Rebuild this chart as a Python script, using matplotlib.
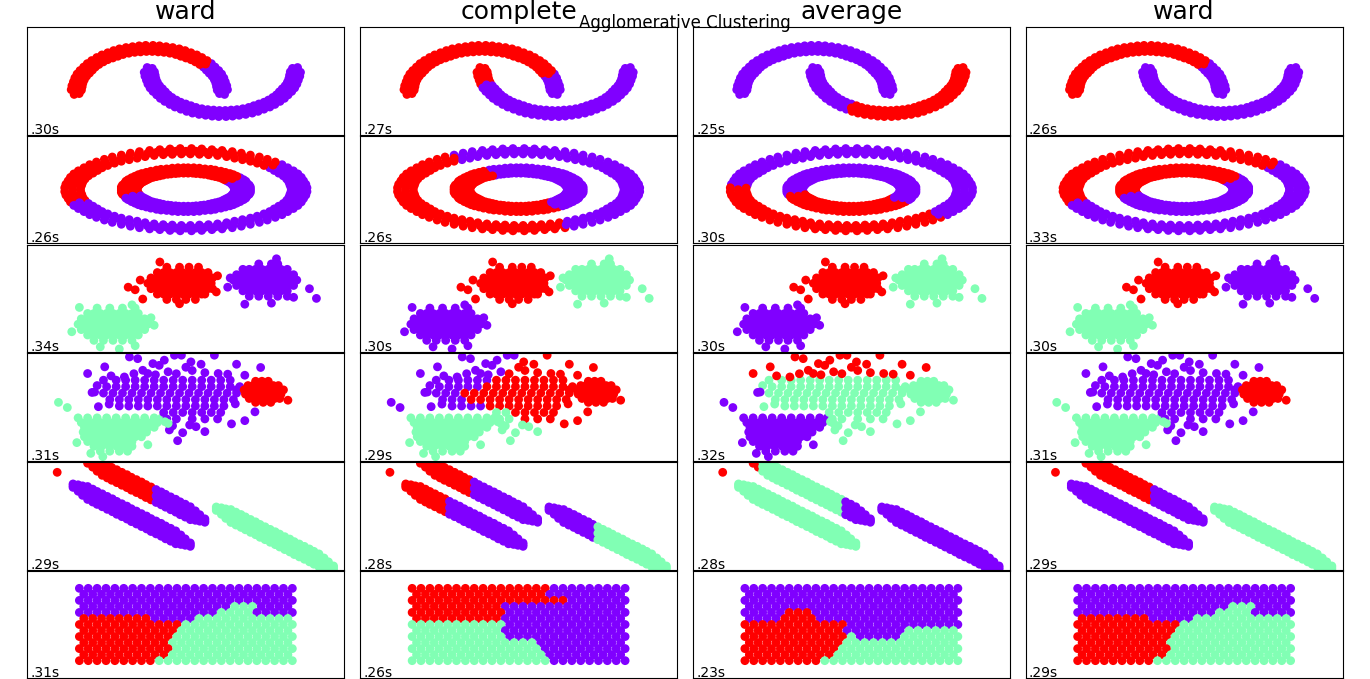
import matplotlib
matplotlib.use("Agg")
import matplotlib.pyplot as plt

# column headers and fit times as printed in the figure
METHODS = ["ward", "complete", "average", "ward"]
FIT_TIMES = [
    [".30s", ".27s", ".25s", ".26s"],
    [".26s", ".26s", ".30s", ".33s"],
    [".34s", ".30s", ".30s", ".30s"],
    [".31s", ".29s", ".32s", ".31s"],
    [".29s", ".28s", ".28s", ".29s"],
    [".31s", ".26s", ".23s", ".29s"],
]
METHOD_INDEX = {"ward": 0, "complete": 1, "average": 2}

# each part: (points, ward labels, complete labels, average labels)
# a label is one colour code for the whole part, or run lengths [(code, count), ...]
# codes: p = cluster 0 (purple), g = middle cluster, r = last cluster

# ---------------- row 1: moons (raw units), three points across the band per step ----------------
MOON_UPPER = [
    (1.03, -0.06), (0.96, -0.04),
    (1.00, 0.00), (0.93, 0.04), (1.07, 0.05), (1.00, 0.09), (1.06, 0.14), (0.92, 0.12),
    (0.98, 0.17), (0.91, 0.20), (1.04, 0.23), (0.97, 0.26), (1.02, 0.32), (0.89, 0.28),
    (0.94, 0.34), (0.86, 0.36), (0.99, 0.41), (0.91, 0.42), (0.95, 0.49), (0.82, 0.43),
    (0.87, 0.50), (0.78, 0.50), (0.90, 0.57), (0.82, 0.57), (0.85, 0.65), (0.74, 0.57),
    (0.77, 0.64), (0.69, 0.63), (0.79, 0.72), (0.71, 0.71), (0.72, 0.79), (0.63, 0.69),
    (0.64, 0.77), (0.57, 0.74), (0.65, 0.85), (0.57, 0.82), (0.57, 0.90), (0.50, 0.78),
    (0.50, 0.87), (0.43, 0.82), (0.49, 0.95), (0.42, 0.91), (0.41, 0.99), (0.36, 0.86),
    (0.34, 0.94), (0.28, 0.89), (0.32, 1.02), (0.26, 0.97), (0.23, 1.04), (0.20, 0.91),
    (0.17, 0.98), (0.12, 0.92), (0.14, 1.06), (0.09, 1.00), (0.05, 1.07), (0.04, 0.93),
    (0.00, 1.00), (-0.04, 0.93), (-0.05, 1.07), (-0.09, 1.00), (-0.14, 1.06), (-0.12, 0.92),
    (-0.17, 0.98), (-0.20, 0.91), (-0.23, 1.04), (-0.26, 0.97), (-0.32, 1.02), (-0.28, 0.89),
    (-0.34, 0.94), (-0.36, 0.86), (-0.41, 0.99), (-0.42, 0.91), (-0.49, 0.95), (-0.43, 0.82),
    (-0.50, 0.87), (-0.50, 0.78), (-0.57, 0.90), (-0.57, 0.82), (-0.65, 0.85), (-0.57, 0.74),
    (-0.64, 0.77), (-0.63, 0.69), (-0.72, 0.79), (-0.71, 0.71), (-0.79, 0.72), (-0.69, 0.63),
    (-0.77, 0.64), (-0.74, 0.57), (-0.85, 0.65), (-0.82, 0.57), (-0.90, 0.57), (-0.78, 0.50),
    (-0.87, 0.50), (-0.82, 0.43), (-0.95, 0.49), (-0.91, 0.42), (-0.99, 0.41), (-0.86, 0.36),
    (-0.94, 0.34), (-0.89, 0.28), (-1.02, 0.32), (-0.97, 0.26), (-1.04, 0.23), (-0.91, 0.20),
    (-0.98, 0.17), (-0.92, 0.12), (-1.06, 0.14), (-1.00, 0.09), (-1.07, 0.05), (-0.93, 0.04),
    (-1.00, 0.00),
    (-0.96, -0.04), (-1.03, -0.06),
]
MOON_LOWER = [
    (-0.03, 0.56), (0.04, 0.54),
    (0.00, 0.50), (0.07, 0.46), (-0.07, 0.45), (0.00, 0.41), (-0.06, 0.36), (0.08, 0.38),
    (0.02, 0.33), (0.09, 0.30), (-0.04, 0.27), (0.03, 0.24), (-0.02, 0.18), (0.11, 0.22),
    (0.06, 0.16), (0.14, 0.14), (0.01, 0.09), (0.09, 0.08), (0.05, 0.01), (0.18, 0.07),
    (0.13, 0.00), (0.22, 0.00), (0.10, -0.07), (0.18, -0.07), (0.15, -0.15), (0.26, -0.07),
    (0.23, -0.14), (0.31, -0.13), (0.21, -0.22), (0.29, -0.21), (0.28, -0.29), (0.37, -0.19),
    (0.36, -0.27), (0.43, -0.24), (0.35, -0.35), (0.43, -0.32), (0.43, -0.40), (0.50, -0.28),
    (0.50, -0.37), (0.57, -0.32), (0.51, -0.45), (0.58, -0.41), (0.59, -0.49), (0.64, -0.36),
    (0.66, -0.44), (0.72, -0.39), (0.68, -0.52), (0.74, -0.47), (0.77, -0.54), (0.80, -0.41),
    (0.83, -0.48), (0.88, -0.42), (0.86, -0.56), (0.91, -0.50), (0.95, -0.57), (0.96, -0.43),
    (1.00, -0.50), (1.04, -0.43), (1.05, -0.57), (1.09, -0.50), (1.14, -0.56), (1.12, -0.42),
    (1.17, -0.48), (1.20, -0.41), (1.23, -0.54), (1.26, -0.47), (1.32, -0.52), (1.28, -0.39),
    (1.34, -0.44), (1.36, -0.36), (1.41, -0.49), (1.42, -0.41), (1.49, -0.45), (1.43, -0.32),
    (1.50, -0.37), (1.50, -0.28), (1.57, -0.40), (1.57, -0.32), (1.65, -0.35), (1.57, -0.24),
    (1.64, -0.27), (1.63, -0.19), (1.72, -0.29), (1.71, -0.21), (1.79, -0.22), (1.69, -0.13),
    (1.77, -0.14), (1.74, -0.07), (1.85, -0.15), (1.82, -0.07), (1.90, -0.07), (1.78, 0.00),
    (1.87, 0.00), (1.82, 0.07), (1.95, 0.01), (1.91, 0.08), (1.99, 0.09), (1.86, 0.14),
    (1.94, 0.16), (1.89, 0.22), (2.02, 0.18), (1.97, 0.24), (2.04, 0.27), (1.91, 0.30),
    (1.98, 0.33), (1.92, 0.38), (2.06, 0.36), (2.00, 0.41), (2.07, 0.45), (1.93, 0.46),
    (2.00, 0.50),
    (1.96, 0.54), (2.03, 0.56),
]
MOONS = [
    (MOON_UPPER, [("p", 26), ("r", 87)], [("p", 17), ("r", 96)], "p"),
    (MOON_LOWER, "p", [("r", 14), ("p", 99)], [("p", 38), ("r", 75)]),
]

# ---------------- row 2: circles (raw units), ordered by angle ----------------
CIRCLE_OUTER = [
    (1.00, 0.00), (0.93, 0.04), (1.07, 0.05), (1.00, 0.09), (1.06, 0.14), (0.92, 0.12),
    (0.98, 0.17), (0.91, 0.20), (1.04, 0.23), (0.97, 0.26), (1.02, 0.32), (0.89, 0.28),
    (0.94, 0.34), (0.86, 0.36), (0.99, 0.41), (0.91, 0.42), (0.95, 0.49), (0.82, 0.43),
    (0.87, 0.50), (0.78, 0.50), (0.90, 0.57), (0.82, 0.57), (0.85, 0.65), (0.74, 0.57),
    (0.77, 0.64), (0.69, 0.63), (0.79, 0.72), (0.71, 0.71), (0.72, 0.79), (0.63, 0.69),
    (0.64, 0.77), (0.57, 0.74), (0.65, 0.85), (0.57, 0.82), (0.57, 0.90), (0.50, 0.78),
    (0.50, 0.87), (0.43, 0.82), (0.49, 0.95), (0.42, 0.91), (0.41, 0.99), (0.36, 0.86),
    (0.34, 0.94), (0.28, 0.89), (0.32, 1.02), (0.26, 0.97), (0.23, 1.04), (0.20, 0.91),
    (0.17, 0.98), (0.12, 0.92), (0.14, 1.06), (0.09, 1.00), (0.05, 1.07), (0.04, 0.93),
    (0.00, 1.00), (-0.04, 0.93), (-0.05, 1.07), (-0.09, 1.00), (-0.14, 1.06), (-0.12, 0.92),
    (-0.17, 0.98), (-0.20, 0.91), (-0.23, 1.04), (-0.26, 0.97), (-0.32, 1.02), (-0.28, 0.89),
    (-0.34, 0.94), (-0.36, 0.86), (-0.41, 0.99), (-0.42, 0.91), (-0.49, 0.95), (-0.43, 0.82),
    (-0.50, 0.87), (-0.50, 0.78), (-0.57, 0.90), (-0.57, 0.82), (-0.65, 0.85), (-0.57, 0.74),
    (-0.64, 0.77), (-0.63, 0.69), (-0.72, 0.79), (-0.71, 0.71), (-0.79, 0.72), (-0.69, 0.63),
    (-0.77, 0.64), (-0.74, 0.57), (-0.85, 0.65), (-0.82, 0.57), (-0.90, 0.57), (-0.78, 0.50),
    (-0.87, 0.50), (-0.82, 0.43), (-0.95, 0.49), (-0.91, 0.42), (-0.99, 0.41), (-0.86, 0.36),
    (-0.94, 0.34), (-0.89, 0.28), (-1.02, 0.32), (-0.97, 0.26), (-1.04, 0.23), (-0.91, 0.20),
    (-0.98, 0.17), (-0.92, 0.12), (-1.06, 0.14), (-1.00, 0.09), (-1.07, 0.05), (-0.93, 0.04),
    (-1.00, 0.00), (-0.93, -0.04), (-1.07, -0.05), (-1.00, -0.09), (-1.06, -0.14), (-0.92, -0.12),
    (-0.98, -0.17), (-0.91, -0.20), (-1.04, -0.23), (-0.97, -0.26), (-1.02, -0.32), (-0.89, -0.28),
    (-0.94, -0.34), (-0.86, -0.36), (-0.99, -0.41), (-0.91, -0.42), (-0.95, -0.49), (-0.82, -0.43),
    (-0.87, -0.50), (-0.78, -0.50), (-0.90, -0.57), (-0.82, -0.57), (-0.85, -0.65), (-0.74, -0.57),
    (-0.77, -0.64), (-0.69, -0.63), (-0.79, -0.72), (-0.71, -0.71), (-0.72, -0.79), (-0.63, -0.69),
    (-0.64, -0.77), (-0.57, -0.74), (-0.65, -0.85), (-0.57, -0.82), (-0.57, -0.90), (-0.50, -0.78),
    (-0.50, -0.87), (-0.43, -0.82), (-0.49, -0.95), (-0.42, -0.91), (-0.41, -0.99), (-0.36, -0.86),
    (-0.34, -0.94), (-0.28, -0.89), (-0.32, -1.02), (-0.26, -0.97), (-0.23, -1.04), (-0.20, -0.91),
    (-0.17, -0.98), (-0.12, -0.92), (-0.14, -1.06), (-0.09, -1.00), (-0.05, -1.07), (-0.04, -0.93),
    (0.00, -1.00), (0.04, -0.93), (0.05, -1.07), (0.09, -1.00), (0.14, -1.06), (0.12, -0.92),
    (0.17, -0.98), (0.20, -0.91), (0.23, -1.04), (0.26, -0.97), (0.32, -1.02), (0.28, -0.89),
    (0.34, -0.94), (0.36, -0.86), (0.41, -0.99), (0.42, -0.91), (0.49, -0.95), (0.43, -0.82),
    (0.50, -0.87), (0.50, -0.78), (0.57, -0.90), (0.57, -0.82), (0.65, -0.85), (0.57, -0.74),
    (0.64, -0.77), (0.63, -0.69), (0.72, -0.79), (0.71, -0.71), (0.79, -0.72), (0.69, -0.63),
    (0.77, -0.64), (0.74, -0.57), (0.85, -0.65), (0.82, -0.57), (0.90, -0.57), (0.78, -0.50),
    (0.87, -0.50), (0.82, -0.43), (0.95, -0.49), (0.91, -0.42), (0.99, -0.41), (0.86, -0.36),
    (0.94, -0.34), (0.89, -0.28), (1.02, -0.32), (0.97, -0.26), (1.04, -0.23), (0.91, -0.20),
    (0.98, -0.17), (0.92, -0.12), (1.06, -0.14), (1.00, -0.09), (1.07, -0.05), (0.93, -0.04),
]
CIRCLE_INNER = [
    (0.50, 0.00), (0.43, 0.02), (0.57, 0.02), (0.50, 0.04), (0.57, 0.07), (0.43, 0.06),
    (0.49, 0.09), (0.42, 0.09), (0.56, 0.12), (0.48, 0.13), (0.54, 0.17), (0.41, 0.13),
    (0.47, 0.17), (0.40, 0.16), (0.53, 0.22), (0.45, 0.21), (0.51, 0.26), (0.38, 0.20),
    (0.43, 0.25), (0.36, 0.23), (0.48, 0.31), (0.41, 0.29), (0.45, 0.35), (0.34, 0.26),
    (0.38, 0.32), (0.32, 0.29), (0.42, 0.39), (0.35, 0.35), (0.39, 0.42), (0.29, 0.32),
    (0.32, 0.38), (0.26, 0.34), (0.35, 0.45), (0.29, 0.41), (0.31, 0.48), (0.23, 0.36),
    (0.25, 0.43), (0.20, 0.38), (0.26, 0.51), (0.21, 0.45), (0.22, 0.53), (0.16, 0.40),
    (0.17, 0.47), (0.13, 0.41), (0.17, 0.54), (0.13, 0.48), (0.12, 0.56), (0.09, 0.42),
    (0.09, 0.49), (0.06, 0.43), (0.07, 0.57), (0.04, 0.50), (0.02, 0.57), (0.02, 0.43),
    (0.00, 0.50), (-0.02, 0.43), (-0.02, 0.57), (-0.04, 0.50), (-0.07, 0.57), (-0.06, 0.43),
    (-0.09, 0.49), (-0.09, 0.42), (-0.12, 0.56), (-0.13, 0.48), (-0.17, 0.54), (-0.13, 0.41),
    (-0.17, 0.47), (-0.16, 0.40), (-0.22, 0.53), (-0.21, 0.45), (-0.26, 0.51), (-0.20, 0.38),
    (-0.25, 0.43), (-0.23, 0.36), (-0.31, 0.48), (-0.29, 0.41), (-0.35, 0.45), (-0.26, 0.34),
    (-0.32, 0.38), (-0.29, 0.32), (-0.39, 0.42), (-0.35, 0.35), (-0.42, 0.39), (-0.32, 0.29),
    (-0.38, 0.32), (-0.34, 0.26), (-0.45, 0.35), (-0.41, 0.29), (-0.48, 0.31), (-0.36, 0.23),
    (-0.43, 0.25), (-0.38, 0.20), (-0.51, 0.26), (-0.45, 0.21), (-0.53, 0.22), (-0.40, 0.16),
    (-0.47, 0.17), (-0.41, 0.13), (-0.54, 0.17), (-0.48, 0.13), (-0.56, 0.12), (-0.42, 0.09),
    (-0.49, 0.09), (-0.43, 0.06), (-0.57, 0.07), (-0.50, 0.04), (-0.57, 0.02), (-0.43, 0.02),
    (-0.50, 0.00), (-0.43, -0.02), (-0.57, -0.02), (-0.50, -0.04), (-0.57, -0.07), (-0.43, -0.06),
    (-0.49, -0.09), (-0.42, -0.09), (-0.56, -0.12), (-0.48, -0.13), (-0.54, -0.17), (-0.41, -0.13),
    (-0.47, -0.17), (-0.40, -0.16), (-0.53, -0.22), (-0.45, -0.21), (-0.51, -0.26), (-0.38, -0.20),
    (-0.43, -0.25), (-0.36, -0.23), (-0.48, -0.31), (-0.41, -0.29), (-0.45, -0.35), (-0.34, -0.26),
    (-0.38, -0.32), (-0.32, -0.29), (-0.42, -0.39), (-0.35, -0.35), (-0.39, -0.42), (-0.29, -0.32),
    (-0.32, -0.38), (-0.26, -0.34), (-0.35, -0.45), (-0.29, -0.41), (-0.31, -0.48), (-0.23, -0.36),
    (-0.25, -0.43), (-0.20, -0.38), (-0.26, -0.51), (-0.21, -0.45), (-0.22, -0.53), (-0.16, -0.40),
    (-0.17, -0.47), (-0.13, -0.41), (-0.17, -0.54), (-0.13, -0.48), (-0.12, -0.56), (-0.09, -0.42),
    (-0.09, -0.49), (-0.06, -0.43), (-0.07, -0.57), (-0.04, -0.50), (-0.02, -0.57), (-0.02, -0.43),
    (0.00, -0.50), (0.02, -0.43), (0.02, -0.57), (0.04, -0.50), (0.07, -0.57), (0.06, -0.43),
    (0.09, -0.49), (0.09, -0.42), (0.12, -0.56), (0.13, -0.48), (0.17, -0.54), (0.13, -0.41),
    (0.17, -0.47), (0.16, -0.40), (0.22, -0.53), (0.21, -0.45), (0.26, -0.51), (0.20, -0.38),
    (0.25, -0.43), (0.23, -0.36), (0.31, -0.48), (0.29, -0.41), (0.35, -0.45), (0.26, -0.34),
    (0.32, -0.38), (0.29, -0.32), (0.39, -0.42), (0.35, -0.35), (0.42, -0.39), (0.32, -0.29),
    (0.38, -0.32), (0.34, -0.26), (0.45, -0.35), (0.41, -0.29), (0.48, -0.31), (0.36, -0.23),
    (0.43, -0.25), (0.38, -0.20), (0.51, -0.26), (0.45, -0.21), (0.53, -0.22), (0.40, -0.16),
    (0.47, -0.17), (0.41, -0.13), (0.54, -0.17), (0.48, -0.13), (0.56, -0.12), (0.42, -0.09),
    (0.49, -0.09), (0.43, -0.06), (0.57, -0.07), (0.50, -0.04), (0.57, -0.02), (0.43, -0.02),
]
CIRCLES = [
    (CIRCLE_OUTER, [("p", 24), ("r", 96), ("p", 96)], [("p", 75), ("r", 102), ("p", 39)],
     [("p", 106), ("r", 86), ("p", 24)]),
    (CIRCLE_INNER, [("p", 21), ("r", 99), ("p", 96)], [("p", 73), ("r", 113), ("p", 30)],
     [("p", 118), ("r", 81), ("p", 17)]),
]

# ---------------- row 3: blobs (scaled units), rows of (y, [x ...]) ----------------
BLOB_MID_ROWS = [
    (1.45, [-0.30, -0.10, 0.05, 0.20]),
    (1.20, [-0.45, -0.35, -0.25, -0.15, -0.05, 0.05, 0.15, 0.25, 0.35]),
    (0.95, [-0.55, -0.45, -0.35, -0.25, -0.15, -0.05, 0.05, 0.15, 0.25, 0.35, 0.42]),
    (0.70, [-0.60, -0.50, -0.40, -0.30, -0.20, -0.10, 0.00, 0.10, 0.20, 0.30, 0.40]),
    (0.45, [-0.55, -0.45, -0.35, -0.25, -0.15, -0.05, 0.05, 0.15, 0.25, 0.35, 0.42]),
    (0.20, [-0.45, -0.35, -0.25, -0.15, -0.05, 0.05, 0.15, 0.25, 0.30]),
    (-0.05, [-0.30, -0.15, 0.00, 0.15]),
]
BLOB_MID_EXTRA = [(-0.91, 0.52), (-0.80, 0.40), (-0.68, -0.03), (-0.72, 0.85),
                  (-0.41, 1.69), (0.50, 1.05), (0.48, 0.30), (-0.10, -0.25)]
BLOB_RIGHT_ROWS = [
    (1.60, [1.15, 1.35, 1.45]),
    (1.35, [0.90, 1.00, 1.10, 1.20, 1.30, 1.40, 1.50, 1.60]),
    (1.10, [0.80, 0.90, 1.00, 1.10, 1.20, 1.30, 1.40, 1.50, 1.60, 1.70]),
    (0.85, [0.75, 0.85, 0.95, 1.05, 1.15, 1.25, 1.35, 1.45, 1.55, 1.65, 1.75]),
    (0.60, [0.80, 0.90, 1.00, 1.10, 1.20, 1.30, 1.40, 1.50, 1.60, 1.70]),
    (0.35, [0.90, 1.00, 1.10, 1.20, 1.30, 1.40, 1.50, 1.60]),
    (0.10, [1.00, 1.15, 1.30, 1.45, 1.60]),
]
BLOB_RIGHT_EXTRA = [(0.66, 0.52), (2.06, 0.00), (0.93, -0.27), (1.35, -0.22),
                    (1.70, 0.05), (1.43, 1.84), (1.95, 0.45), (0.70, 0.95)]
BLOB_LEFT_ROWS = [
    (-0.45, [-1.40, -1.20, -1.00, -0.80]),
    (-0.70, [-1.55, -1.45, -1.35, -1.25, -1.15, -1.05, -0.95, -0.85, -0.75]),
    (-0.95, [-1.65, -1.55, -1.45, -1.35, -1.25, -1.15, -1.05, -0.95, -0.85, -0.75, -0.65]),
    (-1.20, [-1.70, -1.60, -1.50, -1.40, -1.30, -1.20, -1.10, -1.00, -0.90, -0.80, -0.70, -0.60]),
    (-1.45, [-1.65, -1.55, -1.45, -1.35, -1.25, -1.15, -1.05, -0.95, -0.85, -0.75, -0.65]),
    (-1.70, [-1.55, -1.45, -1.35, -1.25, -1.15, -1.05, -0.95, -0.85, -0.75]),
    (-1.95, [-1.45, -1.30, -1.15, -1.00, -0.85]),
]
BLOB_LEFT_EXTRA = [(-1.68, -0.42), (-0.85, -0.30), (-0.55, -0.90), (-0.50, -1.25),
                   (-1.35, -2.25), (-1.05, -2.35), (-0.80, -2.20), (-1.80, -1.55)]

# ---------------- row 4: blobs of varied spread ----------------
VARIED_SMALL_ROWS = [
    (1.20, [1.10, 1.20, 1.30]),
    (1.00, [0.98, 1.06, 1.14, 1.22, 1.30, 1.38, 1.46]),
    (0.80, [0.92, 1.00, 1.08, 1.16, 1.24, 1.32, 1.40, 1.48, 1.54]),
    (0.60, [0.94, 1.02, 1.10, 1.18, 1.26, 1.34, 1.42, 1.50]),
    (0.40, [1.00, 1.08, 1.16, 1.24, 1.32, 1.40, 1.48]),
    (0.22, [1.10, 1.22, 1.34]),
]
VARIED_SMALL_EXTRA = [(1.61, 0.32)]
VARIED_TIGHT_ROWS = [
    (-0.50, [-1.70, -1.55, -1.40, -1.25, -1.10, -0.95, -0.80, -0.65, -0.50, -0.38]),
    (-0.72, [-1.65, -1.55, -1.45, -1.35, -1.25, -1.15, -1.05, -0.95, -0.85, -0.75, -0.65, -0.55, -0.45]),
    (-0.94, [-1.60, -1.50, -1.40, -1.30, -1.20, -1.10, -1.00, -0.90, -0.80, -0.70, -0.60, -0.50]),
    (-1.16, [-1.62, -1.52, -1.42, -1.32, -1.22, -1.12, -1.02, -0.92, -0.82, -0.72, -0.62]),
    (-1.38, [-1.60, -1.50, -1.40, -1.30, -1.20, -1.10, -1.00, -0.90, -0.80, -0.70]),
    (-1.60, [-1.55, -1.45, -1.35, -1.25, -1.15, -1.05, -0.95, -0.85]),
    (-1.82, [-1.45, -1.33, -1.21, -1.09, -0.97, -0.85]),
    (-2.05, [-1.35, -1.20, -1.05, -0.92]),
]
VARIED_TIGHT_EXTRA = [(-1.31, -2.30), (-1.72, -1.65), (-1.50, -2.15), (-0.60, -1.75)]
# wide blob, split where the three methods cut it
WIDE_LEFT_ROWS = [
    (1.25, [-1.10, -0.95, -0.80, -0.65, -0.50]),
    (0.95, [-1.25, -1.10, -0.95, -0.80, -0.65]),
    (0.65, [-1.30, -1.15, -1.00]),
    (0.35, [-1.20, -1.05, -0.90]),
    (0.05, [-1.05, -0.90, -0.75, -0.60]),
]
WIDE_LEFT_EXTRA = [(-1.38, 0.02), (-1.21, 0.14), (-1.40, 1.00), (-1.30, 1.25)]
WIDE_RIGHT_ROWS = [
    (1.25, [-0.35, -0.20, -0.05, 0.10, 0.25, 0.40, 0.55, 0.70]),
    (0.95, [-0.50, -0.35, -0.20, -0.05, 0.10, 0.25, 0.40, 0.55, 0.70, 0.85]),
    (0.65, [-0.85, -0.70, -0.55, -0.40, -0.25, -0.10, 0.05, 0.20, 0.35, 0.50, 0.65, 0.80]),
    (0.35, [-0.75, -0.60, -0.45, -0.30, -0.15, 0.00, 0.15, 0.30, 0.45, 0.60, 0.75]),
    (0.05, [-0.45, -0.30, -0.15, 0.00, 0.15, 0.30, 0.45, 0.60]),
    (-0.25, [-0.05, 0.10, 0.25, 0.40, 0.55]),
    (-0.55, [0.10, 0.30, 0.50]),
]
WIDE_RIGHT_EXTRA = [(1.09, -0.22), (0.93, -0.63), (0.72, -0.78), (0.78, 0.15), (0.80, 0.80)]
WIDE_BOTTOM_ROWS = [(-0.25, [-0.35, -0.20]), (-0.55, [-0.30, -0.15])]
WIDE_BOTTOM_EXTRA = [(-0.26, -1.06), (-0.05, -1.19), (0.16, -0.91), (0.30, -1.14),
                     (-0.13, -1.56), (0.06, -0.83), (-0.21, -0.87)]
WIDE_TOP_LEFT = [(-1.55, 1.56), (-1.28, 1.87), (-1.18, 1.45), (-0.97, 1.40), (-0.89, 2.33),
                 (-0.76, 2.25), (-0.68, 1.71), (-0.60, 1.56), (-0.52, 2.02), (-0.42, 1.94),
                 (-0.34, 2.18), (-0.28, 1.64), (-0.18, 2.41), (-0.07, 2.41), (-0.82, 1.55),
                 (-0.48, 1.50)]
WIDE_TOP_RIGHT = [(0.08, 2.10), (0.24, 1.99), (0.45, 2.41), (0.51, 1.56), (0.66, 1.53),
                  (0.80, 1.99), (0.93, 1.48), (1.18, 1.84), (0.10, 1.70), (0.30, 1.60),
                  (-0.15, 1.55), (0.00, 1.85)]
VARIED_FAR_LEFT = [(-2.01, 0.22), (-1.87, -0.02)]
VARIED_LEFT_PAIR = [(-1.48, 0.68), (-1.44, 0.70)]
VARIED_BRIDGE = [(-0.28, -0.76), (-0.33, -0.68)]

# ---------------- row 5: anisotropic blobs, three points across each streak ----------------
ANISO_BAND_A = [
    (-1.78, 1.40), (-1.78, 1.48), (-1.78, 1.32), (-1.70, 1.29), (-1.70, 1.44), (-1.70, 1.14),
    (-1.63, 1.17), (-1.63, 1.39), (-1.63, 0.95), (-1.55, 1.06), (-1.55, 1.36), (-1.55, 0.76),
    (-1.47, 0.94), (-1.47, 1.24), (-1.47, 0.64), (-1.40, 0.83), (-1.40, 1.13), (-1.40, 0.53),
    (-1.32, 0.72), (-1.32, 1.02), (-1.32, 0.42), (-1.24, 0.60), (-1.24, 0.90), (-1.24, 0.30),
    (-1.16, 0.49), (-1.16, 0.79), (-1.16, 0.19), (-1.09, 0.37), (-1.09, 0.67), (-1.09, 0.07),
    (-1.01, 0.26), (-1.01, 0.56), (-1.01, -0.04), (-0.93, 0.15), (-0.93, 0.45), (-0.93, -0.15),
    (-0.86, 0.03), (-0.86, 0.33), (-0.86, -0.27), (-0.78, -0.08), (-0.78, 0.22), (-0.78, -0.38),
    (-0.70, -0.20), (-0.70, 0.10), (-0.70, -0.50), (-0.62, -0.31), (-0.62, -0.01), (-0.62, -0.61),
    (-0.55, -0.43), (-0.55, -0.13), (-0.55, -0.73), (-0.47, -0.54), (-0.47, -0.24), (-0.47, -0.84),
    (-0.39, -0.65), (-0.39, -0.35), (-0.39, -0.95), (-0.32, -0.77), (-0.32, -0.47), (-0.32, -1.07),
    (-0.24, -0.88), (-0.24, -0.58), (-0.24, -1.18), (-0.16, -1.00), (-0.16, -0.70), (-0.16, -1.30),
    (-0.08, -1.11), (-0.08, -0.89), (-0.08, -1.33), (-0.01, -1.22), (-0.01, -1.07), (-0.01, -1.37),
    (0.07, -1.34), (0.07, -1.26), (0.07, -1.42),
]
ANISO_BAND_B = [
    (-1.55, 2.52), (-1.55, 2.60), (-1.55, 2.44), (-1.47, 2.41), (-1.47, 2.56), (-1.47, 2.26),
    (-1.40, 2.29), (-1.40, 2.51), (-1.40, 2.07), (-1.32, 2.18), (-1.32, 2.48), (-1.32, 1.88),
    (-1.24, 2.06), (-1.24, 2.36), (-1.24, 1.76), (-1.17, 1.95), (-1.17, 2.25), (-1.17, 1.65),
    (-1.09, 1.84), (-1.09, 2.14), (-1.09, 1.54), (-1.01, 1.72), (-1.01, 2.02), (-1.01, 1.42),
    (-0.93, 1.61), (-0.93, 1.91), (-0.93, 1.31), (-0.86, 1.49), (-0.86, 1.79), (-0.86, 1.19),
    (-0.78, 1.38), (-0.78, 1.68), (-0.78, 1.08), (-0.70, 1.27), (-0.70, 1.57), (-0.70, 0.97),
    (-0.63, 1.15), (-0.63, 1.45), (-0.63, 0.85), (-0.55, 1.04), (-0.55, 1.34), (-0.55, 0.74),
    (-0.47, 0.92), (-0.47, 1.22), (-0.47, 0.62), (-0.39, 0.81), (-0.39, 1.11), (-0.39, 0.51),
    (-0.32, 0.70), (-0.32, 1.00), (-0.32, 0.40), (-0.24, 0.58), (-0.24, 0.88), (-0.24, 0.28),
    (-0.16, 0.47), (-0.16, 0.77), (-0.16, 0.17), (-0.09, 0.35), (-0.09, 0.65), (-0.09, 0.05),
    (-0.01, 0.24), (-0.01, 0.54), (-0.01, -0.06), (0.07, 0.12), (0.07, 0.42), (0.07, -0.18),
    (0.15, 0.01), (0.15, 0.23), (0.15, -0.21), (0.22, -0.10), (0.22, 0.05), (0.22, -0.25),
    (0.30, -0.22), (0.30, -0.14), (0.30, -0.30),
]
ANISO_BAND_C = [
    (0.48, 0.33), (0.48, 0.41), (0.48, 0.25), (0.56, 0.22), (0.56, 0.37), (0.56, 0.07),
    (0.63, 0.10), (0.63, 0.32), (0.63, -0.12), (0.71, -0.01), (0.71, 0.29), (0.71, -0.31),
    (0.79, -0.13), (0.79, 0.17), (0.79, -0.43), (0.87, -0.24), (0.87, 0.06), (0.87, -0.54),
    (0.94, -0.35), (0.94, -0.05), (0.94, -0.65), (1.02, -0.47), (1.02, -0.17), (1.02, -0.77),
    (1.10, -0.58), (1.10, -0.28), (1.10, -0.88), (1.17, -0.70), (1.17, -0.40), (1.17, -1.00),
    (1.25, -0.81), (1.25, -0.51), (1.25, -1.11), (1.33, -0.93), (1.33, -0.63), (1.33, -1.23),
    (1.41, -1.04), (1.41, -0.74), (1.41, -1.34), (1.48, -1.15), (1.48, -0.85), (1.48, -1.45),
    (1.56, -1.27), (1.56, -0.97), (1.56, -1.57), (1.64, -1.38), (1.64, -1.08), (1.64, -1.68),
    (1.71, -1.50), (1.71, -1.20), (1.71, -1.80), (1.79, -1.61), (1.79, -1.31), (1.79, -1.91),
    (1.87, -1.72), (1.87, -1.42), (1.87, -2.02), (1.95, -1.84), (1.95, -1.54), (1.95, -2.14),
    (2.02, -1.95), (2.02, -1.65), (2.02, -2.25), (2.10, -2.07), (2.10, -1.77), (2.10, -2.37),
    (2.18, -2.18), (2.18, -1.96), (2.18, -2.40), (2.25, -2.29), (2.25, -2.14), (2.25, -2.44),
    (2.33, -2.41), (2.33, -2.33), (2.33, -2.49),
]
ANISO_STRAY = [(-2.03, 2.02)]

# ---------------- row 6: no structure (uniform square) ----------------
UNIF_Y = [1.68, 1.40, 1.12, 0.84, 0.56, 0.28, 0.00, -0.28, -0.56, -0.84, -1.12, -1.40, -1.68]
UNIF_X_EVEN = [-1.68, -1.54, -1.40, -1.26, -1.12, -0.98, -0.84, -0.70, -0.56, -0.42, -0.28, -0.14,
               0.00, 0.14, 0.28, 0.42, 0.56, 0.70, 0.84, 0.98, 1.12, 1.26, 1.40, 1.54, 1.68]
UNIF_X_ODD = [-1.61, -1.47, -1.33, -1.19, -1.05, -0.91, -0.77, -0.63, -0.49, -0.35, -0.21, -0.07,
              0.07, 0.21, 0.35, 0.49, 0.63, 0.77, 0.91, 1.05, 1.19, 1.33, 1.47, 1.61]
UNIF_WARD = [
    [("p", 25)], [("p", 24)], [("p", 25)],
    [("p", 17), ("g", 3), ("p", 4)],
    [("p", 16), ("g", 4), ("p", 5)],
    [("r", 8), ("p", 5), ("g", 11)],
    [("r", 12), ("g", 13)],
    [("r", 11), ("g", 13)],
    [("r", 11), ("g", 14)],
    [("r", 10), ("g", 14)],
    [("r", 11), ("g", 14)],
    [("r", 10), ("g", 14)],
    [("r", 9), ("g", 16)],
]
UNIF_COMPLETE = [
    [("r", 16), ("p", 9)],
    [("r", 15), ("p", 9)],
    [("r", 18), ("p", 7)],
    [("r", 10), ("p", 14)],
    [("r", 11), ("p", 14)],
    [("r", 10), ("p", 14)],
    [("g", 11), ("p", 14)],
    [("g", 10), ("p", 14)],
    [("g", 11), ("p", 14)],
    [("g", 14), ("p", 10)],
    [("g", 15), ("p", 10)],
    [("g", 15), ("p", 9)],
    [("g", 16), ("p", 9)],
]
UNIF_AVERAGE = [
    [("p", 25)], [("p", 24)], [("p", 25)], [("p", 24)],
    [("p", 5), ("r", 3), ("p", 17)],
    [("p", 4), ("r", 4), ("p", 16)],
    [("r", 12), ("p", 13)],
    [("r", 11), ("p", 7), ("g", 6)],
    [("r", 12), ("g", 1), ("p", 5), ("g", 7)],
    [("r", 11), ("g", 13)],
    [("r", 11), ("g", 14)],
    [("r", 10), ("g", 14)],
    [("r", 9), ("g", 16)],
]


def rows_to_points(rows, extra=()):
    return [(x, y) for y, xs in rows for x in xs] + list(extra)


def expand(spec, n):
    if isinstance(spec, str):
        return [spec] * n
    out = []
    for code, count in spec:
        out += [code] * count
    return out


BLOBS = [
    (rows_to_points(BLOB_MID_ROWS, BLOB_MID_EXTRA), "r", "r", "r"),
    (rows_to_points(BLOB_RIGHT_ROWS, BLOB_RIGHT_EXTRA), "p", "g", "g"),
    (rows_to_points(BLOB_LEFT_ROWS, BLOB_LEFT_EXTRA), "g", "p", "p"),
]
VARIED = [
    (rows_to_points(VARIED_TIGHT_ROWS, VARIED_TIGHT_EXTRA), "g", "g", "p"),
    (rows_to_points(WIDE_LEFT_ROWS, WIDE_LEFT_EXTRA), "p", "p", "g"),
    (rows_to_points(WIDE_RIGHT_ROWS, WIDE_RIGHT_EXTRA), "p", "r", "g"),
    (rows_to_points(WIDE_BOTTOM_ROWS, WIDE_BOTTOM_EXTRA), "p", "g", "g"),
    (WIDE_TOP_LEFT, "p", "p", "r"),
    (WIDE_TOP_RIGHT, "p", "r", "r"),
    (VARIED_FAR_LEFT, "g", "p", "p"),
    (VARIED_LEFT_PAIR, "p", "p", "p"),
    (VARIED_BRIDGE, "g", "g", "g"),
    (rows_to_points(VARIED_SMALL_ROWS, VARIED_SMALL_EXTRA), "r", "r", "g"),
]
ANISO = [
    (ANISO_BAND_A, "p", [("r", 27), ("p", 48)], "g"),
    (ANISO_BAND_B, [("r", 42), ("p", 33)], [("r", 33), ("p", 42)], [("r", 6), ("g", 51), ("p", 18)]),
    (ANISO_BAND_C, "g", [("p", 30), ("g", 45)], "p"),
    (ANISO_STRAY, "r", "r", "r"),
]
UNIFORM = []
for k, y in enumerate(UNIF_Y):
    xs = UNIF_X_EVEN if k % 2 == 0 else UNIF_X_ODD
    UNIFORM.append(([(x, y) for x in xs], UNIF_WARD[k], UNIF_COMPLETE[k], UNIF_AVERAGE[k]))

DATASETS = [
    (MOONS, (-1.67, 2.67), (-0.99, 1.49)),
    (CIRCLES, (-1.40, 1.40), (-1.40, 1.40)),
    (BLOBS, (-2.5, 2.5), (-2.5, 2.5)),
    (VARIED, (-2.5, 2.5), (-2.5, 2.5)),
    (ANISO, (-2.5, 2.5), (-2.5, 2.5)),
    (UNIFORM, (-2.5, 2.5), (-2.5, 2.5)),
]

cmap = plt.get_cmap("rainbow")
COLORS = {"p": cmap(0.0), "g": cmap(0.5), "r": cmap(1.0)}

fig = plt.figure(figsize=(13.7, 6.79), dpi=100)
plt.subplots_adjust(left=.02, right=.98, bottom=.001, top=.96, wspace=.05, hspace=.01)

n_rows, n_cols = len(DATASETS), len(METHODS)
for i, (parts, xlim, ylim) in enumerate(DATASETS):
    for j, method in enumerate(METHODS):
        ax = plt.subplot(n_rows, n_cols, i * n_cols + j + 1)
        if i == 0:
            ax.set_title(method, size=18)
        xs, ys, cs = [], [], []
        for part in parts:
            pts = part[0]
            labels = expand(part[1 + METHOD_INDEX[method]], len(pts))
            for (x, y), lab in zip(pts, labels):
                xs.append(x)
                ys.append(y)
                cs.append(COLORS[lab])
        ax.scatter(xs, ys, s=40, c=cs, linewidths=0)
        ax.set_xlim(*xlim)
        ax.set_ylim(*ylim)
        ax.set_xticks(())
        ax.set_yticks(())
        ax.text(.01, .01, FIT_TIMES[i][j], transform=ax.transAxes, size=10,
                horizontalalignment="left")

fig.suptitle("Agglomerative Clustering", fontsize=12)
fig.savefig("out.png", dpi=100)
